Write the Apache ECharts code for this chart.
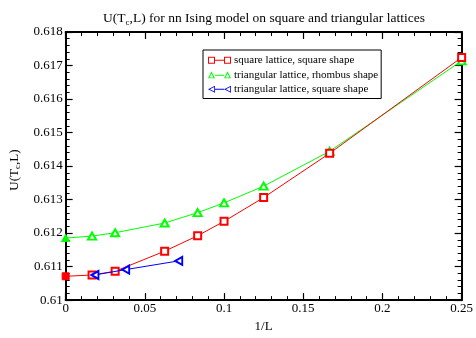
<!DOCTYPE html>
<html><head><meta charset="utf-8">
<script src="https://cdn.jsdelivr.net/npm/echarts@6/dist/echarts.min.js"></script>
<style>html,body{margin:0;padding:0;background:#fff}#c{width:476px;height:338px}</style>
</head><body><div id="c"></div>
<script>
const invL = [0, 1/60, 1/32, 1/16, 1/12, 0.1, 0.125, 1/6, 0.25];
const squareSquare = [0.61071, 0.61075, 0.61086, 0.61146, 0.61192, 0.61235, 0.61306, 0.61438, 0.61724];
const triRhombus = [0.61185, 0.61191, 0.61201, 0.61230, 0.61261, 0.61290, 0.61340, 0.61444, 0.61714];
const invLTriSquare = [0.0185, 0.0379, 0.0714];
const triSquare = [0.61075, 0.61091, 0.61117];
const seriesNames = ['square lattice, square shape', 'triangular lattice, rhombus shape', 'triangular lattice, square shape'];

const font = 'Liberation Serif';
// legend icons: line with hollow symbol at both ends (holes via reverse winding)
const iconSquare = 'path://M0 0L7 0L7 7L0 7Z M1 1L1 6L6 6L6 1Z M7 3L16 3L16 4L7 4Z M16 0L23 0L23 7L16 7Z M17 1L17 6L22 6L22 1Z';
const iconTriUp = 'path://M0 7L3.5 0L7 7Z M1.6 6.2L5.4 6.2L3.5 2.2Z M7 3.5L16 3.5L16 4.5L7 4.5Z M16 7L19.5 0L23 7Z M17.6 6.2L21.4 6.2L19.5 2.2Z';
const iconTriLeft = 'path://M0 3.5L7 0L7 7Z M1.9 3.5L6.2 5.7L6.2 1.3Z M7 3L16 3L16 4L7 4Z M16 3.5L23 0L23 7Z M17.9 3.5L22.2 5.7L22.2 1.3Z';

function pts(xs, ys, filledColor, sym) {
  return xs.map((x, i) => {
    if (x === 0 && filledColor) return {value: [x, ys[i]], symbol: sym, itemStyle: {color: filledColor, borderColor: filledColor}};
    return [x, ys[i]];
  });
}
const chart = echarts.init(document.getElementById('c'));
const axisCommon = {
  axisLine: {show: true, onZero: false, lineStyle: {color: '#000', width: 2}},
  axisTick: {show: true, inside: true, length: 7, lineStyle: {color: '#000', width: 1.2}},
  minorTick: {show: true, splitNumber: 5, length: 4, lineStyle: {color: '#000', width: 1}},
  splitLine: {show: false}
};
chart.setOption({
  animation: false,
  backgroundColor: '#fff',
  title: {
    text: 'U(T{s|c},L) for nn Ising model on square and triangular lattices',
    left: 259, top: 5, textAlign: 'center',
    textStyle: {fontFamily: font, fontSize: 13.5, fontWeight: 'normal', color: '#000',
      rich: {s: {fontFamily: font, fontSize: 9, verticalAlign: 'bottom', padding: [8, 0, 0, 0], color: '#000'}}}
  },
  grid: {left: 63.5, right: 13.5, top: 32, bottom: 28},
  legend: {
    orient: 'vertical', left: 203, top: 50,
    padding: [4, 3, 3, 5], itemGap: 2, itemWidth: 23, itemHeight: 7,
    borderColor: '#000', borderWidth: 1,
    itemStyle: {borderWidth: 0},
    textStyle: {fontFamily: font, fontSize: 11, color: '#000', lineHeight: 12.5, padding: [0, 0, 0, -2]},
    data: [
      {name: seriesNames[0], icon: iconSquare},
      {name: seriesNames[1], icon: iconTriUp},
      {name: seriesNames[2], icon: iconTriLeft}
    ]
  },
  xAxis: [
    Object.assign({type: 'value', min: 0, max: 0.25, interval: 0.05, position: 'bottom',
      name: '1/L', nameLocation: 'middle', nameGap: 16,
      nameTextStyle: {fontFamily: font, fontSize: 13, color: '#000'},
      axisLabel: {fontFamily: font, fontSize: 13, color: '#000', margin: 2}}, axisCommon),
    Object.assign({type: 'value', min: 0, max: 0.25, interval: 0.05, position: 'top',
      axisLabel: {show: false}}, axisCommon)
  ],
  yAxis: [
    Object.assign({type: 'value', min: 0.61, max: 0.618, interval: 0.001, position: 'left',
      name: 'U(T{s|c},L)', nameLocation: 'middle', nameGap: 41,
      nameTextStyle: {fontFamily: font, fontSize: 13, color: '#000', padding: [0, 8, 0, 0],
        rich: {s: {fontFamily: font, fontSize: 9, color: '#000', verticalAlign: 'bottom', padding: [7, 0, 0, 0]}}},
      axisLabel: {fontFamily: font, fontSize: 13, color: '#000', margin: 3}}, axisCommon),
    Object.assign({type: 'value', min: 0.61, max: 0.618, interval: 0.001, position: 'right',
      axisLabel: {show: false}}, axisCommon)
  ],
  series: [
    {name: seriesNames[0], type: 'line', symbol: 'emptyRect', symbolSize: 7,
      lineStyle: {color: '#ff0000', width: 1}, itemStyle: {color: '#ff0000', borderColor: '#ff0000', borderWidth: 1},
      data: pts(invL, squareSquare, '#ff0000', 'rect'), z: 3},
    {name: seriesNames[1], type: 'line', symbol: 'emptyTriangle', symbolSize: [8, 7],
      lineStyle: {color: '#00ff00', width: 1}, itemStyle: {color: '#00ff00', borderColor: '#00ff00', borderWidth: 1},
      data: pts(invL, triRhombus, '#00ff00', 'triangle'), z: 2},
    {name: seriesNames[2], type: 'line', symbol: 'emptyTriangle', symbolSize: [8, 7], symbolRotate: 90,
      lineStyle: {color: '#0000ff', width: 1}, itemStyle: {color: '#0000ff', borderColor: '#0000ff', borderWidth: 1},
      data: pts(invLTriSquare, triSquare, null, null), z: 4}
  ]
});
</script></body></html>
